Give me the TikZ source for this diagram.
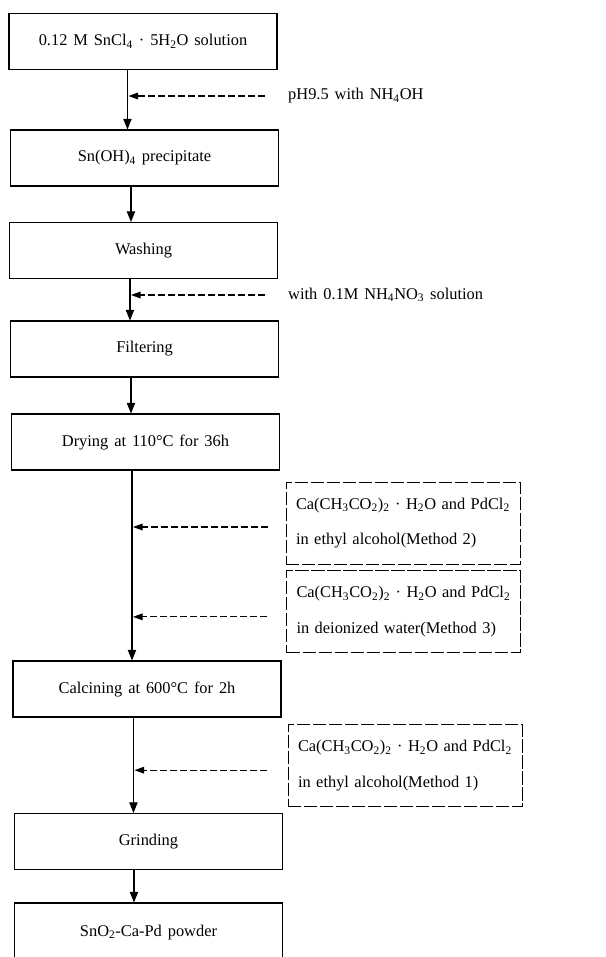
\documentclass[tikz,border=0pt]{standalone}
\usepackage{fontspec}
\setmainfont{Liberation Serif}
\usepackage{tikz}
\usetikzlibrary{arrows.meta,calc}
\newcommand{\chemsub}[1]{\textsubscript{#1}}
\newcommand{\boxfont}{\fontsize{14}{16}\selectfont\spaceskip=0.36em\relax}
\newcommand{\addfont}{\fontsize{14}{30}\selectfont\spaceskip=0.36em\relax}

\begin{document}
\begin{tikzpicture}[
    stepbox/.style={draw=black, line width=0.9pt, minimum width=8.04cm,
      minimum height=1.68cm, inner sep=0pt, font=\boxfont},
    addbox/.style={draw=black, line width=0.7pt, dash pattern=on 4mm off 0.8mm,
      minimum width=7.02cm, minimum height=2.46cm, text width=6.42cm,
      align=left, inner xsep=0.3cm, font=\addfont},
    note/.style={anchor=west, inner sep=0pt, font=\boxfont},
    flow/.style={-{Triangle[length=3.2mm,width=2.5mm]}, line width=0.9pt},
    feed/.style={-{Triangle[length=2.9mm,width=2mm]}, line width=1pt,
      dash pattern=on 2.1mm off 0.9mm}
  ]
    \useasboundingbox (0,0) rectangle (18.18,-28.71);

    % main process
    \node[stepbox] (sncl) at (4.29,-1.245) {0.12 M SnCl\chemsub{4} · 5H\chemsub{2}O solution};
    \node[stepbox] (precip) at (4.335,-4.74) {Sn(OH)\chemsub{4} precipitate};
    \node[stepbox] (wash) at (4.305,-7.515) {Washing};
    \node[stepbox] (filter) at (4.335,-10.47) {Filtering};
    \node[stepbox] (dry) at (4.365,-13.26) {Drying at 110\textdegree{}C for 36h};
    \node[stepbox] (calcine) at (4.41,-20.67) {Calcining at 600\textdegree{}C for 2h};
    \node[stepbox] (grind) at (4.455,-25.245) {Grinding};
    \node[stepbox, minimum height=1.77cm] (powder) at (4.455,-27.975) {SnO\chemsub{2}-Ca-Pd powder};

    % additions
    \node[note] (ph) at (8.64,-2.88) {pH9.5 with NH\chemsub{4}OH};
    \node[note] (nitrate) at (8.64,-8.85) {with 0.1M NH\chemsub{4}NO\chemsub{3} solution};
    \node[addbox] (meth2) at (12.09,-15.69) {Ca(CH\chemsub{3}CO\chemsub{2})\chemsub{2} · H\chemsub{2}O and PdCl\chemsub{2}\\in ethyl alcohol(Method 2)};
    \node[addbox] (meth3) at (12.105,-18.345) {Ca(CH\chemsub{3}CO\chemsub{2})\chemsub{2} · H\chemsub{2}O and PdCl\chemsub{2}\\in deionized water(Method 3)};
    \node[addbox] (meth1) at (12.15,-22.965) {Ca(CH\chemsub{3}CO\chemsub{2})\chemsub{2} · H\chemsub{2}O and PdCl\chemsub{2}\\in ethyl alcohol(Method 1)};

    \coordinate (t1) at ([xshift=3.57cm]sncl.south west);
    \coordinate (t2) at ([xshift=3.63cm]precip.south west);
    \coordinate (t3) at ([xshift=3.63cm]wash.south west);
    \coordinate (t4) at ([xshift=3.63cm]filter.south west);
    \coordinate (t5) at ([xshift=3.63cm]dry.south west);
    \coordinate (t6) at ([xshift=3.63cm]calcine.south west);
    \coordinate (t7) at ([xshift=3.6cm]grind.south west);

    \draw[flow] (t1) -- (t1 |- precip.north);
    \draw[flow] (t2) -- (t2 |- wash.north);
    \draw[flow] (t3) -- (t3 |- filter.north);
    \draw[flow] (t4) -- (t4 |- dry.north);
    \draw[flow] (t5) -- (t5 |- calcine.north);
    \draw[flow] (t6) -- (t6 |- grind.north);
    \draw[flow] (t7) -- (t7 |- powder.north);

    \draw[feed, shorten <=0.69cm, shorten >=0.03cm] (ph.west) -- (ph.west -| t1);
    \draw[feed, shorten <=0.69cm, shorten >=0.03cm] (nitrate.west) -- (nitrate.west -| t3);
    \draw[feed, shorten <=0.54cm, shorten >=0.03cm] ([yshift=-0.12cm]meth2.west) -- ([yshift=-0.12cm]meth2.west -| t5);
    \draw[feed, shorten <=0.57cm, shorten >=0.03cm] ([yshift=-0.16cm]meth3.west) -- ([yshift=-0.16cm]meth3.west -| t5);
    \draw[feed, shorten <=0.63cm, shorten >=0.03cm] ([yshift=-0.14cm]meth1.west) -- ([yshift=-0.14cm]meth1.west -| t6);
  \end{tikzpicture}
\end{document}
